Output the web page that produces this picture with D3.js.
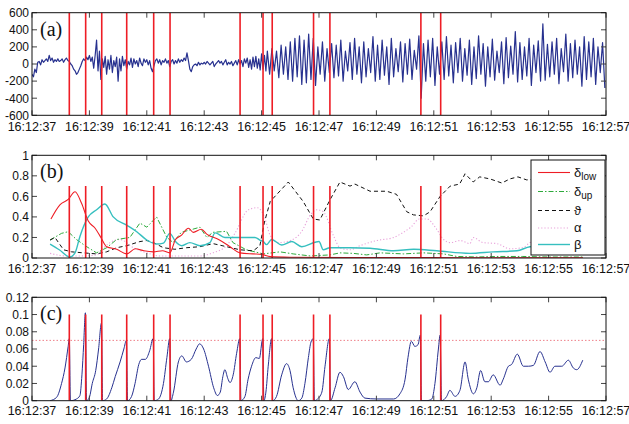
<!DOCTYPE html>
<html>
<head>
<meta charset="utf-8">
<script src="https://cdn.jsdelivr.net/npm/d3@7"></script>
<style>
  body { margin: 0; background: #fff; }
  .panel-label { font-family: "Liberation Serif", "Times New Roman", serif; font-size: 20px; }
</style>
</head>
<body>
<svg id="chart" width="629" height="424" font-family="'Liberation Sans', Arial, sans-serif" fill="#111"></svg>
<script>
// Time axis (seconds past 16:12)
const timeDomain = [37, 57];
const timeTicks = [37, 39, 41, 43, 45, 47, 49, 51, 53, 55, 57];

// Red detection markers
const markerTimes = [38.30, 38.87, 39.43, 40.30, 41.24, 41.81, 44.25, 45.05, 45.37, 46.81, 47.38, 50.55, 51.24];

// (a) raw trace: quiet part, sampled every 0.05 s from 37.00
const quietStart = 37.0, quietStep = 0.05;
const quietValues = [
  -120, -150, -60, -100, 20,   30, -10, 50, 20, 40,
  60, 30, 100, 40, 70,         20, 50, 30, 60, 30,
  40, 60, 20, 50, 70,          40, 30, 0, -20, -60,
  -80, -120, -100, -60, -20,   30, 60, 40, 80, 50,
  100, 30, 80, -50, 100,       280, -80, 150, -180, 60,
  -40, 90, -120, 50, -60,      100, -100, 40, -30, 80,
  -200, 60, -80, 90, -20,      50, -60, 30, -10, 70,
  -40, 60, 0, 40, -30,         70, 10, -20, 60, 20,
  50, -10, 40, -50, -90,       -20, 40, 60, 10, 50,
  -10, 40, 20, 60, 10,         40, -30, 30, 50, 0,
  40, 10, 60, 20, 50,          30, 70, 40, 130, 40,
  -60, -90, -30, -10, 0,       -20, 20, -10, 10, 0,
  20, 0, 30, 10, -10,          10, 30, -30, 0, 20,
  40, 10, 30, -10, 20,         50, -10, 20, 0, 30,
  -20, 10, 40, -10, 50,        0, 40, -30, 60, 10,
  70, -40, 50, -60, 80,        -30, 90, -50, 60, -70,
  120, -60, 100, -80, 150
];
// (a) raw trace: oscillating part, turning points every 0.08 s from 45.28
const oscStart = 45.28, oscStep = 0.08;
const oscValues = [
  -120, 180, -80, 150, -160, 220, -120, 200, -180, 260,
  -200, 300, -150, 330, -240, 280, -220, 350, -180, 300,
  -250, 200, -120, 260, -200, 180, -100, 240, -160, 220,
  -140, 280, -200, 150, -80, 250, -180, 300, -120, 200,
  -220, 260, -150, 180, -100, 320, -200, 220, -180, 280,
  -130, 200, -240, 300, -150, 180, -90, 260, -210, 240,
  -120, 290, -180, 160, -60, 330, -400, 240, -200, 280,
  -150, 300, -250, 200, -120, 260, -180, 320, -140, 220,
  -220, 250, -100, 300, -200, 180, -130, 280, -240, 200,
  -170, 330, -120, 240, -260, 200, -150, 290, -190, 150,
  -100, 260, -230, 310, -160, 210, -120, 380, -210, 250,
  -180, 200, -140, 300, -250, 220, -100, 270, -200, 470,
  -190, 230, -150, 260, -120, 300, -230, 180, -90, 350,
  -200, 240, -160, 280, -120, 200, -260, 320, -180, 260,
  -150, 300, -240, 200, -100, 250, -280
];

// (b) parameter curves, [time, value]
const deltaLow = [[37.66,0.38],[37.98,0.52],[38.26,0.57],[38.5,0.645],[38.73,0.53],[38.96,0.36],[39.2,0.29],[39.4,0.2],[39.6,0.11],[39.95,0.085],[40.3,0.04],[40.6,0.09],[40.9,0.07],[41.23,0.06],[41.55,0.07],[41.8,0.05],[42.0,0.18],[42.2,0.22],[42.45,0.29],[42.62,0.25],[42.9,0.28],[43.1,0.23],[43.5,0.18],[43.9,0.11],[44.25,0.05],[44.7,0.04],[45.0,0.035],[45.3,0.013],[46,0.008],[48,0.005],[50,0.004],[52,0.003],[54,0.003],[56.2,0.003]];
const deltaUp = [[37.63,0.175],[38.03,0.24],[38.26,0.256],[38.55,0.18],[38.85,0.12],[39.25,0.05],[39.6,0.1],[39.95,0.18],[40.41,0.2],[40.76,0.34],[41.0,0.3],[41.34,0.4],[41.7,0.2],[41.92,0.15],[42.2,0.25],[42.6,0.28],[42.85,0.3],[43.09,0.2],[43.3,0.25],[43.78,0.26],[44.0,0.15],[44.47,0.08],[45.06,0.04],[45.64,0.06],[46.1,0.04],[46.69,0.02],[47.38,0.03],[47.73,0.05],[48.2,0.045],[48.66,0.03],[49.13,0.05],[49.94,0.04],[50.64,0.05],[51.34,0.04],[51.8,0.015],[52.5,0.01],[53.2,0.015],[54.1,0.015],[55.0,0.01],[56.2,0.01]];
const theta = [[37.63,0.175],[37.8,0.2],[38.1,0.08],[38.38,0.06],[38.79,0.05],[39.25,0.04],[39.6,0.06],[39.95,0.1],[40.3,0.12],[40.76,0.16],[41.0,0.17],[41.23,0.15],[41.58,0.1],[41.98,0.085],[42.38,0.1],[42.85,0.11],[43.31,0.14],[43.78,0.11],[44.25,0.08],[44.71,0.07],[44.94,0.12],[45.1,0.35],[45.3,0.55],[45.93,0.74],[46.45,0.55],[46.8,0.38],[47.03,0.37],[47.38,0.565],[47.73,0.74],[48.08,0.7],[48.25,0.72],[48.78,0.65],[49.36,0.65],[49.7,0.62],[50.06,0.45],[50.29,0.42],[50.64,0.41],[50.87,0.45],[51.22,0.6],[51.57,0.7],[51.9,0.72],[52.09,0.82],[52.37,0.74],[52.6,0.79],[52.96,0.77],[53.37,0.73],[53.65,0.77],[53.93,0.79],[54.24,0.76],[54.8,0.78],[55.4,0.8],[56.0,0.78],[56.5,0.79]];
const alpha = [[37.63,0.045],[38.2,0.02],[38.67,0.02],[39.25,0.03],[39.5,0.1],[39.72,0.15],[40.07,0.18],[40.53,0.1],[41.0,0.05],[41.46,0.02],[41.9,0.02],[42.38,0.02],[42.85,0.02],[43.3,0.05],[43.78,0.12],[44.07,0.24],[44.54,0.47],[44.85,0.49],[45.1,0.4],[45.3,0.22],[45.6,0.15],[46.0,0.17],[46.4,0.26],[46.7,0.42],[46.93,0.47],[47.15,0.45],[47.5,0.22],[47.73,0.1],[48.08,0.08],[48.43,0.12],[49.01,0.17],[49.6,0.2],[49.94,0.25],[50.2,0.3],[50.5,0.38],[50.76,0.38],[51.1,0.28],[51.34,0.18],[51.57,0.15],[51.92,0.17],[52.26,0.14],[52.37,0.2],[52.72,0.15],[53.2,0.14],[53.65,0.09],[54.1,0.1],[54.35,0.15],[55.0,0.2],[55.6,0.18],[56.2,0.15]];
const beta = [[37.63,0.136],[37.95,0.08],[38.32,0.01],[38.5,0.05],[38.67,0.21],[38.96,0.40],[39.25,0.47],[39.54,0.526],[39.83,0.40],[40.3,0.32],[40.65,0.256],[41.0,0.175],[41.34,0.136],[41.58,0.145],[41.8,0.24],[42.0,0.16],[42.22,0.12],[42.5,0.15],[42.85,0.12],[43.2,0.15],[43.38,0.245],[43.72,0.2],[44.19,0.2],[44.77,0.2],[44.94,0.175],[45.06,0.16],[45.17,0.13],[45.35,0.18],[45.7,0.127],[46.05,0.16],[46.4,0.11],[46.86,0.153],[47.0,0.16],[47.15,0.08],[47.38,0.1],[48.08,0.1],[48.78,0.095],[49.6,0.07],[50.3,0.085],[51.1,0.07],[52.26,0.045],[53.07,0.06],[53.9,0.07],[54.35,0.11],[55.0,0.12],[55.6,0.12]];

// (c) detection function, [time, value], and its threshold
const threshold = 0.07;
const detection = [[37.63,0],[37.86,0.004],[38.03,0.02],[38.15,0.038],[38.26,0.063],[38.3,0.072],[38.34,0],
  [38.55,0.002],[38.67,0.006],[38.74,0.03],[38.8,0.065],[38.86,0.102],[38.9,0],
  [39.0,0.004],[39.1,0.02],[39.22,0.035],[39.32,0.06],[39.42,0.09],[39.46,0],
  [39.6,0.002],[39.78,0.015],[39.9,0.028],[40.07,0.045],[40.2,0.06],[40.29,0.07],[40.33,0],
  [40.47,0.005],[40.59,0.02],[40.72,0.042],[40.82,0.048],[40.95,0.048],[41.1,0.058],[41.22,0.072],[41.26,0],
  [41.41,0.002],[41.58,0.02],[41.7,0.05],[41.8,0.072],[41.84,0],
  [41.93,0.01],[42.1,0.045],[42.22,0.052],[42.38,0.045],[42.55,0.048],[42.72,0.06],[42.84,0.066],[42.98,0.06],[43.15,0.04],[43.33,0.015],[43.46,0.006],[43.56,0.01],[43.65,0.028],[43.72,0.036],[43.82,0.026],[43.9,0.021],[44.01,0.03],[44.13,0.055],[44.24,0.072],[44.28,0],
  [44.42,0.005],[44.53,0.025],[44.65,0.04],[44.8,0.05],[44.92,0.049],[45.04,0.072],[45.08,0],
  [45.15,0.01],[45.23,0.04],[45.35,0.072],[45.39,0],
  [45.52,0.005],[45.7,0.03],[45.87,0.043],[45.99,0.035],[46.1,0.015],[46.28,0],[46.4,0.003],[46.51,0.02],[46.63,0.05],[46.72,0.068],[46.8,0.072],[46.84,0],
  [46.95,0.002],[47.1,0.01],[47.21,0.04],[47.36,0.072],[47.4,0],
  [47.56,0.015],[47.73,0.033],[47.85,0.028],[48.02,0.013],[48.25,0.022],[48.43,0.01],[48.6,0.003],[49.0,0.002],[49.6,0.002],[49.82,0.008],[50.0,0.025],[50.1,0.05],[50.22,0.069],[50.34,0.063],[50.45,0.065],[50.53,0.076],[50.57,0],
  [50.75,0],[50.93,0.002],[51.04,0.02],[51.16,0.06],[51.22,0.076],[51.27,0],
  [51.45,0.005],[51.56,0.012],[51.74,0.005],[51.91,0.012],[52.09,0.045],[52.2,0.025],[52.38,0.008],[52.5,0.015],[52.63,0.035],[52.78,0.022],[52.9,0.022],[53.07,0.03],[53.31,0.018],[53.42,0.025],[53.6,0.04],[53.71,0.042],[53.91,0.054],[54.12,0.04],[54.3,0.04],[54.47,0.041],[54.7,0.057],[54.88,0.045],[55.05,0.033],[55.22,0.04],[55.46,0.04],[55.69,0.047],[55.86,0.038],[55.98,0.036],[56.19,0.047]];

const legendLabels = [
  { sym: 'δ', sub: 'low' },
  { sym: 'δ', sub: 'up' },
  { sym: 'ϑ', sub: '' },
  { sym: 'α', sub: '' },
  { sym: 'β', sub: '' }
];

// ---------------------------------------------------------------------
const BLUE = '#27318f', RED = '#ee1d25';
const styles = [
  { color: RED, dash: null, width: 1.1, curve: d3.curveMonotoneX },
  { color: '#2eaa3c', dash: '5,2,1.5,2', width: 1, curve: d3.curveLinear },
  { color: '#111', dash: '4,3', width: 1, curve: d3.curveLinear },
  { color: '#e8a2da', dash: '1.2,2', width: 1.1, curve: d3.curveMonotoneX },
  { color: '#36bfbf', dash: null, width: 1.4, curve: d3.curveMonotoneX }
];

const svg = d3.select('#chart');
const x = d3.scaleLinear().domain(timeDomain).range([32, 606]);
const pad2 = n => (n < 10 ? '0' : '') + n;

const panels = [
  { top: 12.7, bottom: 115.3, domain: [-600, 600], ticks: d3.range(-600, 601, 200), label: '(a)', markTop: null, xdy: 15.7 },
  { top: 155.3, bottom: 258, domain: [0, 1], ticks: d3.range(0, 1.01, 0.2), label: '(b)', markTop: 0.7, xdy: 14.6 },
  { top: 297.3, bottom: 400.7, domain: [0, 0.12], ticks: d3.range(0, 0.1201, 0.02), label: '(c)', markTop: 0.1, xdy: 14.4 }
];

panels.forEach((p, i) => {
  p.y = d3.scaleLinear().domain(p.domain).range([p.bottom, p.top]);
  svg.append('clipPath').attr('id', 'clip' + i)
    .append('rect').attr('x', x.range()[0]).attr('y', p.top)
    .attr('width', x.range()[1] - x.range()[0]).attr('height', p.bottom - p.top);
  p.g = svg.append('g');
  p.plot = p.g.append('g').attr('clip-path', `url(#clip${i})`);
});

// (a) trace
const pa = panels[0];
const trace = quietValues.map((v, i) => [quietStart + i * quietStep, v])
  .concat(oscValues.map((v, i) => [oscStart + i * oscStep, v]));
pa.plot.append('path').datum(trace)
  .attr('fill', 'none').attr('stroke', BLUE).attr('stroke-width', 1.2)
  .attr('stroke-linejoin', 'round')
  .attr('d', d3.line().x(d => x(d[0])).y(d => pa.y(d[1])));

// (b) curves
const pb = panels[1];
const series = [deltaLow, deltaUp, theta, alpha, beta];
const drawOrder = [3, 1, 2, 4, 0];
drawOrder.forEach(k => {
  const s = styles[k];
  pb.plot.append('path').datum(series[k])
    .attr('fill', 'none').attr('stroke', s.color).attr('stroke-width', s.width)
    .attr('stroke-dasharray', s.dash)
    .attr('d', d3.line().curve(s.curve).x(d => x(d[0])).y(d => pb.y(d[1])));
});

// (c) detection + threshold
const pc = panels[2];
pc.plot.append('line')
  .attr('x1', x.range()[0]).attr('x2', x.range()[1])
  .attr('y1', pc.y(threshold)).attr('y2', pc.y(threshold))
  .attr('stroke', '#ee7f88').attr('stroke-width', 1).attr('stroke-dasharray', '1.5,2');
pc.plot.append('path').datum(detection)
  .attr('fill', 'none').attr('stroke', BLUE).attr('stroke-width', 1)
  .attr('d', d3.line().curve(d3.curveMonotoneX).x(d => x(d[0])).y(d => pc.y(d[1])));

// markers, axes, labels
panels.forEach(p => {
  const yTop = p.markTop == null ? p.top : p.y(p.markTop);
  p.plot.selectAll('.mark').data(markerTimes).enter().append('line')
    .attr('x1', d => x(d)).attr('x2', d => x(d))
    .attr('y1', yTop).attr('y2', p.bottom)
    .attr('stroke', RED).attr('stroke-width', 1.6);

  const tk = p.g.append('g').attr('stroke', '#444').attr('stroke-width', 1);
  timeTicks.forEach(t => {
    tk.append('line').attr('x1', x(t)).attr('x2', x(t)).attr('y1', p.bottom).attr('y2', p.bottom - 5);
    tk.append('line').attr('x1', x(t)).attr('x2', x(t)).attr('y1', p.top).attr('y2', p.top + 5);
  });
  p.ticks.forEach(v => {
    tk.append('line').attr('x1', 32).attr('x2', 37).attr('y1', p.y(v)).attr('y2', p.y(v));
    tk.append('line').attr('x1', 606).attr('x2', 601).attr('y1', p.y(v)).attr('y2', p.y(v));
  });

  p.g.append('rect').attr('x', 32).attr('y', p.top)
    .attr('width', 574).attr('height', p.bottom - p.top)
    .attr('fill', 'none').attr('stroke', '#111').attr('stroke-width', 1);

  p.g.selectAll('.xl').data(timeTicks).enter().append('text')
    .attr('x', d => x(d)).attr('y', p.bottom + p.xdy)
    .attr('text-anchor', 'middle').attr('font-size', 12.5)
    .text(d => '16:12:' + pad2(d));

  p.g.selectAll('.yl').data(p.ticks).enter().append('text')
    .attr('x', 29).attr('y', d => p.y(d) + 4.3)
    .attr('text-anchor', 'end').attr('font-size', 12)
    .text(d => String(+d.toFixed(2)));

  p.g.append('text').attr('class', 'panel-label')
    .attr('x', 40).attr('y', p.top + 23).text(p.label);
});

// legend for (b)
const lg = svg.append('g');
lg.append('rect').attr('x', 531).attr('y', 160).attr('width', 74).attr('height', 95)
  .attr('fill', '#fff').attr('stroke', '#111').attr('stroke-width', 1);
const legendY = [172.5, 191.5, 210.5, 228, 244.5];
legendLabels.forEach((l, k) => {
  const s = styles[k];
  lg.append('line').attr('x1', 538).attr('x2', 570)
    .attr('y1', legendY[k]).attr('y2', legendY[k])
    .attr('stroke', s.color).attr('stroke-width', s.width).attr('stroke-dasharray', s.dash);
  const t = lg.append('text').attr('x', 574).attr('y', legendY[k] + 4).attr('font-size', 13);
  t.append('tspan').text(l.sym);
  if (l.sub) t.append('tspan').attr('font-size', 10).attr('dy', 3).text(l.sub);
});
</script>
</body>
</html>
